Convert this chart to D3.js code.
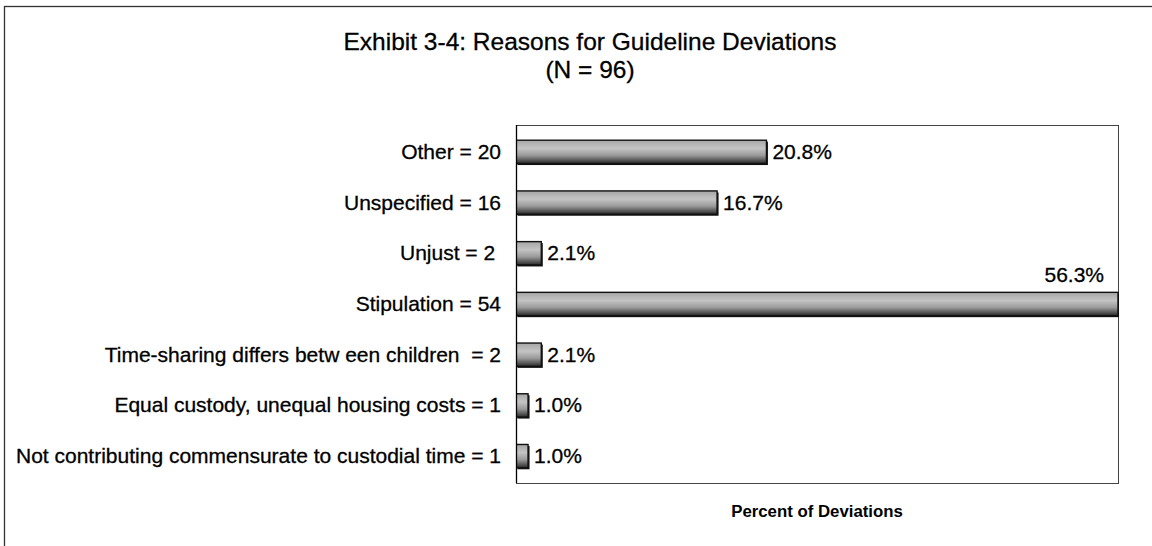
<!DOCTYPE html>
<html>
<head>
<meta charset="utf-8">
<script src="https://cdn.jsdelivr.net/npm/d3@7"></script>
<style>
  body { margin: 0; background: #fff; }
  svg { display: block; font-family: "Liberation Sans", Arial, sans-serif; }
  text { white-space: pre; }
</style>
</head>
<body>
<div id="chart"></div>
<script>
const categories = [
    'Other = 20',
    'Unspecified = 16',
    'Unjust = 2 ',
    'Stipulation = 54',
    'Time-sharing differs betw een children  = 2',
    'Equal custody, unequal housing costs = 1',
    'Not contributing commensurate to custodial time = 1'
];
const percents = [20.8, 16.7, 2.1, 56.3, 2.1, 1.0, 1.0];
const valueLabels = ['20.8%', '16.7%', '2.1%', '56.3%', '2.1%', '1.0%', '1.0%'];
const titleLines = ['Exhibit 3-4: Reasons for Guideline Deviations', '(N = 96)'];
const xTitle = 'Percent of Deviations';
const xMax = 50;

const dim = { width: 1152, height: 546, left: 516, right: 1118, top: 125, bottom: 483 };

const svg = d3.select('#chart')
    .append('svg')
        .attr('width', dim.width)
        .attr('height', dim.height);

const defs = svg.append('defs');
const grad = defs.append('linearGradient')
    .attr('id', 'barFill')
    .attr('x1', 0).attr('y1', 0).attr('x2', 0).attr('y2', 1);
grad.append('stop').attr('offset', '0%').attr('stop-color', '#a6a6a6');
grad.append('stop').attr('offset', '35%').attr('stop-color', '#c4c4c4');
grad.append('stop').attr('offset', '65%').attr('stop-color', '#9a9a9a');
grad.append('stop').attr('offset', '100%').attr('stop-color', '#2a2a2a');

defs.append('clipPath')
    .attr('id', 'plotClip')
    .append('rect')
        .attr('x', dim.left)
        .attr('y', dim.top)
        .attr('width', dim.right - dim.left + 1)
        .attr('height', dim.bottom - dim.top);

// outer frame
svg.append('rect')
    .attr('x', 4.5).attr('y', 6.5)
    .attr('width', 1200).attr('height', 600)
    .attr('fill', 'none')
    .attr('stroke', '#333')
    .attr('stroke-width', 1.3);

const x = d3.scaleLinear()
    .domain([0, xMax])
    .range([dim.left, dim.right])
    .clamp(true);

const y = d3.scaleBand()
    .domain(categories)
    .range([dim.top, dim.bottom])
    .paddingInner(0.54)
    .paddingOuter(0.3);

// plot area frame
svg.append('rect')
    .attr('x', dim.left + 0.5).attr('y', dim.top + 0.5)
    .attr('width', dim.right - dim.left).attr('height', dim.bottom - dim.top)
    .attr('fill', 'none')
    .attr('stroke', '#444')
    .attr('stroke-width', 1);

const bars = svg.append('g').attr('clip-path', 'url(#plotClip)');

bars.selectAll('.shadow')
    .data(categories)
    .enter()
    .append('rect')
        .attr('class', 'shadow')
        .attr('x', d => x(0) + 1.5)
        .attr('y', d => y(d) + 1.5)
        .attr('width', (d, i) => x(percents[i]) - x(0))
        .attr('height', y.bandwidth())
        .attr('fill', '#111');

bars.selectAll('.bar')
    .data(categories)
    .enter()
    .append('rect')
        .attr('class', 'bar')
        .attr('x', d => x(0))
        .attr('y', d => y(d))
        .attr('width', (d, i) => x(percents[i]) - x(0))
        .attr('height', y.bandwidth())
        .attr('fill', 'url(#barFill)')
        .attr('stroke', '#111')
        .attr('stroke-width', 1.4);

// y axis line
svg.append('line')
    .attr('x1', dim.left + 0.5).attr('x2', dim.left + 0.5)
    .attr('y1', dim.top).attr('y2', dim.bottom)
    .attr('stroke', '#000')
    .attr('stroke-width', 1.3);

// category labels
svg.append('g')
    .selectAll('text')
    .data(categories)
    .enter()
    .append('text')
        .attr('x', dim.left - 15)
        .attr('y', d => y(d) + y.bandwidth() / 2 + 7)
        .attr('text-anchor', 'end')
        .attr('font-size', '21px')
        .attr('fill', '#000')
        .attr('stroke', '#000')
        .attr('stroke-width', 0.3)
        .text(d => d);

// value labels
svg.append('g')
    .selectAll('text')
    .data(categories)
    .enter()
    .append('text')
        .attr('x', (d, i) => percents[i] > xMax ? x(xMax) - 14 : x(percents[i]) + 6)
        .attr('y', (d, i) => percents[i] > xMax ? y(d) - 10 : y(d) + y.bandwidth() / 2 + 7)
        .attr('text-anchor', (d, i) => percents[i] > xMax ? 'end' : 'start')
        .attr('font-size', '21px')
        .attr('fill', '#000')
        .attr('stroke', '#000')
        .attr('stroke-width', 0.3)
        .text((d, i) => valueLabels[i]);

// title
svg.append('g')
    .selectAll('text')
    .data(titleLines)
    .enter()
    .append('text')
        .attr('x', 590)
        .attr('y', (d, i) => 50 + i * 28)
        .attr('text-anchor', 'middle')
        .attr('font-size', '24.5px')
        .attr('fill', '#000')
        .attr('stroke', '#000')
        .attr('stroke-width', 0.3)
        .text(d => d);

// x axis title
svg.append('text')
    .attr('x', (dim.left + dim.right) / 2)
    .attr('y', 517)
    .attr('text-anchor', 'middle')
    .attr('font-size', '16.8px')
    .attr('font-weight', 'bold')
    .attr('fill', '#000')
    .text(xTitle);
</script>
</body>
</html>
